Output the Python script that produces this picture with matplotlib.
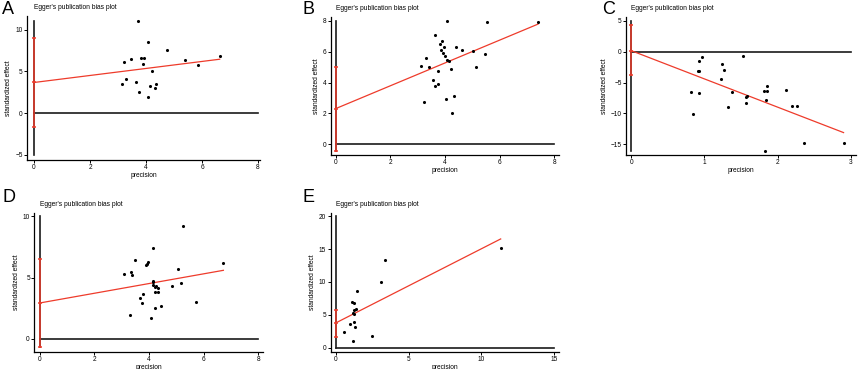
import numpy as np
import matplotlib.pyplot as plt

plt.rcParams['font.family'] = ['Liberation Sans', 'DejaVu Sans']

# panel A
a_prec = [3.73, 4.08, 4.75, 3.20, 3.48, 3.82, 3.92, 3.89, 4.20, 5.38,
          5.86, 6.63, 3.29, 3.16, 3.63, 3.76, 4.14, 4.36, 4.33, 4.06]
a_eff = [11.08, 8.52, 7.53, 6.09, 6.53, 6.61, 6.61, 5.85, 5.09, 6.41,
         5.81, 6.89, 4.14, 3.50, 3.78, 2.58, 3.26, 3.46, 3.02, 1.94]
a_fit = [3.68, 0.42]      # intercept, slope
a_ci = [-1.61, 8.96]
a_xticks = [0, 2, 4, 6, 8]
a_yticks = [-5, 0, 5, 10]

# panel B
b_prec = [4.06, 5.55, 7.40, 3.63, 3.89, 3.83, 3.95, 4.41, 3.85, 4.62,
          5.02, 3.94, 3.99, 3.32, 5.45, 4.09, 4.16, 3.12, 3.43, 5.13,
          4.21, 3.74, 3.57, 3.74, 3.63, 4.05, 4.34, 3.24, 4.24]
b_eff = [8.00, 7.89, 7.89, 7.05, 6.66, 6.47, 6.27, 6.27, 6.08, 6.10,
         6.04, 5.92, 5.69, 5.61, 5.84, 5.43, 5.39, 5.07, 5.01, 5.02,
         4.89, 4.74, 4.18, 3.90, 3.77, 2.95, 3.11, 2.74, 2.03]
b_fit = [2.31, 0.739]
b_ci = [-0.43, 5.02]
b_xticks = [0, 2, 4, 6, 8]
b_yticks = [0, 2, 4, 6, 8]

# panel C
c_prec = [1.53, 0.96, 0.92, 1.24, 1.27, 0.91, 0.92, 1.22, 1.37, 0.82,
          0.92, 1.57, 1.58, 1.86, 1.81, 1.85, 2.11, 1.84, 1.57, 1.32,
          2.19, 2.27, 0.85, 2.36, 2.90, 1.83]
c_eff = [-0.66, -0.88, -1.52, -1.95, -2.98, -3.09, -3.19, -4.49, -6.54, -6.59,
         -6.70, -7.29, -7.18, -5.62, -6.37, -6.32, -6.27, -7.83, -8.37, -9.02,
         -8.80, -8.80, -10.09, -14.84, -14.84, -16.08]
c_fit = [0.15, -4.57]
c_ci = [-3.79, 4.30]
c_xticks = [0, 1, 2, 3]
c_yticks = [-15, -10, -5, 0, 5]

# panel D
d_prec = [5.24, 4.16, 3.49, 3.95, 3.88, 3.91, 6.72, 5.06, 3.10, 3.35,
          3.39, 4.13, 4.16, 5.18, 4.85, 4.16, 4.26, 4.21, 4.32, 4.33,
          4.20, 3.79, 3.68, 3.73, 5.73, 4.45, 4.20, 3.32, 4.06]
d_eff = [9.24, 7.44, 6.43, 6.27, 6.02, 6.10, 6.21, 5.69, 5.26, 5.42,
         5.23, 4.71, 4.60, 4.52, 4.33, 4.36, 4.28, 4.22, 4.11, 3.79,
         3.79, 3.62, 3.30, 2.92, 3.02, 2.64, 2.53, 1.96, 1.72]
d_fit = [2.92, 0.397]
d_ci = [-0.71, 6.51]
d_xticks = [0, 2, 4, 6, 8]
d_yticks = [0, 5, 10]

# panel E
e_prec = [11.32, 3.41, 3.13, 1.49, 1.10, 1.23, 1.39, 1.28, 1.17, 1.26,
          1.28, 1.01, 1.30, 0.59, 2.52, 1.21]
e_eff = [15.18, 13.30, 10.00, 8.68, 6.90, 6.75, 5.94, 5.79, 5.33, 5.18,
         3.96, 3.65, 3.15, 2.39, 1.83, 0.96]
e_fit = [3.76, 1.13]
e_ci = [1.68, 5.74]
e_xticks = [0, 5, 10, 15]
e_yticks = [0, 5, 10, 15, 20]

RED = '#ee3b2b'
W, H = 858, 369

fig = plt.figure(figsize=(W / 100, H / 100), dpi=100)


def panel(letter, rect, xlim, ylim, prec, eff, fit, ci, xticks, yticks, letter_xy):
    # rect in pixels: left, top, right, bottom
    l, t, r, b = rect
    ax = fig.add_axes([l / W, (H - b) / H, (r - l) / W, (b - t) / H])
    ax.set_xlim(xlim)
    ax.set_ylim(ylim)
    for s in ['top', 'right']:
        ax.spines[s].set_visible(False)
    for s in ['left', 'bottom']:
        ax.spines[s].set_linewidth(0.9)
    ax.set_xticks(xticks)
    ax.set_yticks(yticks)
    ax.tick_params(axis='both', labelsize=4.7, length=2.2, width=0.7, pad=1.0)

    # reference lines at x=0 and y=0
    ylo = min(yticks[0], min(eff), ci[0])
    yhi = max(yticks[-1], max(eff))
    ax.plot([0, 0], [ylo, yhi], color='#1a1a1a', lw=1.2, zorder=2)
    ax.plot([0, xticks[-1]], [0, 0], color='#1a1a1a', lw=1.2, zorder=2)

    # confidence interval of intercept
    ax.plot([0, 0], ci, color=RED, lw=1.1, zorder=3)
    ax.plot([0, 0], ci, ls='none', marker='_', ms=2.5, mew=1.1, color=RED, zorder=3)
    ax.plot([0], [fit[0]], ls='none', marker='_', ms=2.5, mew=1.1, color=RED, zorder=3)

    # Egger regression line
    xs = np.array([0, max(prec)])
    ax.plot(xs, fit[0] + fit[1] * xs, color=RED, lw=0.9, zorder=3)

    ax.scatter(prec, eff, s=5, color='black', zorder=4, linewidths=0)

    ax.set_xlabel('precision', fontsize=4.8, labelpad=0.3)
    ax.set_ylabel('standardized effect', fontsize=4.8, labelpad=2)
    ax.annotate("Egger's publication bias plot", xy=(0, 1), xycoords=('data', 'axes fraction'),
                xytext=(0, 5), textcoords='offset pixels', fontsize=4.8, ha='left', va='bottom')
    fig.text(letter_xy[0] / W, 1 - letter_xy[1] / H, letter, fontsize=13, ha='left', va='top')
    return ax


panel('A', (27, 16, 260, 160), (-0.25, 8.07), (-5.6, 11.64),
      a_prec, a_eff, a_fit, a_ci, a_xticks, a_yticks, (2, 1))
panel('B', (330.7, 17, 559, 155), (-0.18, 8.17), (-0.69, 8.24),
      b_prec, b_eff, b_fit, b_ci, b_xticks, b_yticks, (302, 1))
panel('C', (626, 17, 856, 155), (-0.072, 3.07), (-16.73, 5.6),
      c_prec, c_eff, c_fit, c_ci, c_xticks, c_yticks, (602, 1))
panel('D', (34.3, 213, 263, 351.7), (-0.2, 8.17), (-1.06, 10.27),
      d_prec, d_eff, d_fit, d_ci, d_xticks, d_yticks, (2, 189))
panel('E', (330.7, 213, 559, 351.7), (-0.34, 15.32), (-0.61, 20.5),
      e_prec, e_eff, e_fit, e_ci, e_xticks, e_yticks, (302, 189))

plt.savefig('out.png', dpi=100)
